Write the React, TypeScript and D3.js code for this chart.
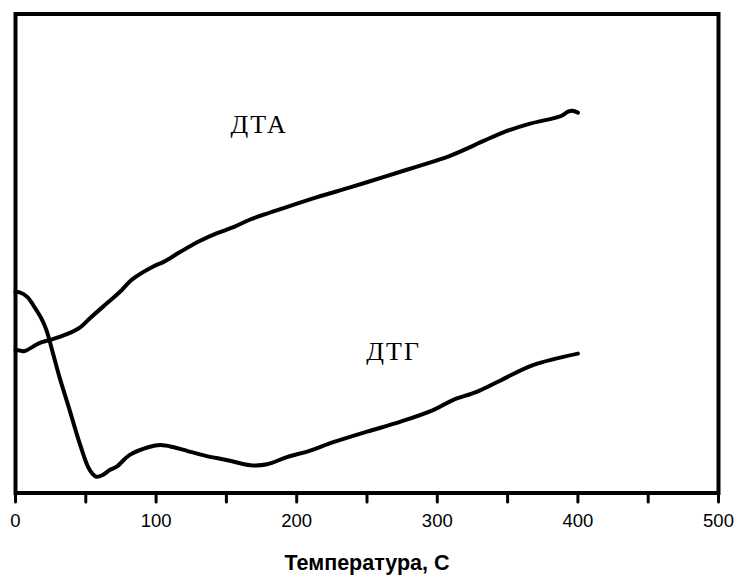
import React from 'react';
import * as d3 from 'd3';

// DTA curve (upper)
const dtaTemp = [0, 2, 6, 17, 24, 36, 46, 53, 65, 74, 83, 98, 105, 117, 131, 143, 155, 167, 190, 214, 238, 261, 285, 309, 333, 347, 366, 388, 393, 396, 400];
const dtaSignal = [29.8, 29.8, 29.6, 31.3, 31.9, 33.1, 34.6, 36.5, 39.6, 41.9, 44.6, 47.3, 48.2, 50.3, 52.6, 54.2, 55.5, 57.1, 59.4, 61.7, 63.8, 65.9, 68.1, 70.4, 73.5, 75.3, 77.1, 78.7, 79.6, 79.8, 79.4];

// DTG curve (lower)
const dtgTemp = [0, 3, 8.5, 13.5, 18.3, 22, 26.6, 31.3, 38.5, 45.6, 51.5, 54.8, 57.5, 62, 67, 72, 81, 95, 103, 112, 122, 136, 150, 167, 179, 193, 209, 226, 250, 274, 297, 311, 328, 345, 368, 400];
const dtgSignal = [41.9, 41.9, 40.9, 38.8, 36.5, 34.0, 29.2, 24.2, 17.3, 10.4, 5.5, 4.0, 3.4, 3.75, 4.8, 5.5, 7.9, 9.6, 10.0, 9.6, 8.8, 7.7, 6.9, 5.8, 6.0, 7.5, 8.8, 10.6, 12.8, 14.9, 17.3, 19.4, 21.1, 23.5, 26.7, 29.1];

const xTicks = [0, 100, 200, 300, 400, 500];
const xMinorTicks = [0, 50, 100, 150, 200, 250, 300, 350, 400, 450, 500];

const labels = [
  { text: 'ДТА', t: 153, v: 75.2 },
  { text: 'ДТГ', t: 249.5, v: 27.8 },
];

const W = 738;
const H = 576;
const margin = { top: 14, right: 19.5, bottom: 83, left: 15.5 };

export default function App() {
  const x = d3.scaleLinear().domain([0, 500]).range([margin.left, W - margin.right]);
  const y = d3.scaleLinear().domain([0, 100]).range([H - margin.bottom, margin.top]);

  const line = d3
    .line<[number, number]>()
    .x((d) => x(d[0]))
    .y((d) => y(d[1]))
    .curve(d3.curveCatmullRom.alpha(0.5));

  const dta = dtaTemp.map((t, i) => [t, dtaSignal[i]] as [number, number]);
  const dtg = dtgTemp.map((t, i) => [t, dtgSignal[i]] as [number, number]);

  const [x0, x1] = x.range();
  const [y1, y0] = y.range();

  return (
    <svg width={W} height={H} style={{ position: 'absolute', left: 0, top: 0, background: '#fff' }}>
      {/* curves */}
      <path d={line(dta) || ''} fill="none" stroke="#000" strokeWidth={4} strokeLinejoin="round" strokeLinecap="round" />
      <path d={line(dtg) || ''} fill="none" stroke="#000" strokeWidth={4} strokeLinejoin="round" strokeLinecap="round" />

      {/* frame */}
      <rect x={x0} y={y0} width={x1 - x0} height={y1 - y0} fill="none" stroke="#000" strokeWidth={4} />

      {/* ticks */}
      {xMinorTicks.map((t) => (
        <line key={'t' + t} x1={x(t)} x2={x(t)} y1={y1} y2={y1 + 9} stroke="#000" strokeWidth={3} strokeLinecap="round" />
      ))}
      {xTicks.map((t) => (
        <text key={'l' + t} x={x(t)} y={527} textAnchor="middle" fontFamily="'Liberation Sans', Arial, sans-serif" fontSize={18.5} fill="#000">
          {t}
        </text>
      ))}

      <text x={(x0 + x1) / 2} y={570} textAnchor="middle" fontFamily="'Liberation Sans', Arial, sans-serif" fontSize={21.5} fontWeight="bold" fill="#000">
        Температура, С
      </text>

      {labels.map((l) => (
        <text key={l.text} x={x(l.t)} y={y(l.v)} fontFamily="'Liberation Serif', 'Times New Roman', serif" fontSize={26} letterSpacing={2} fill="#000">
          {l.text}
        </text>
      ))}
    </svg>
  );
}
